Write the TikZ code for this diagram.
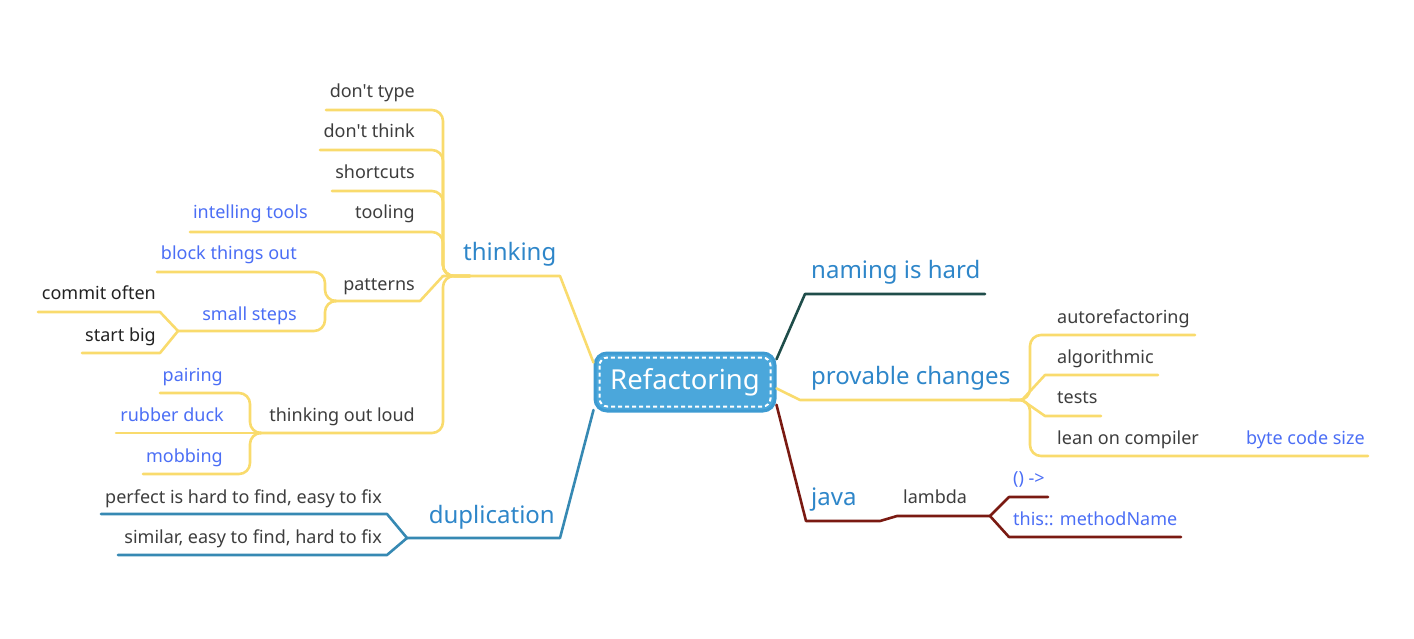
\documentclass[tikz,border=0pt]{standalone}
\usepackage{fontspec}
\newfontfamily\osans{Noto Sans}
\usetikzlibrary{calc}
\definecolor{ylw}{HTML}{F9DB6D}
\definecolor{hdblue}{HTML}{2E86C9}
\definecolor{txtgray}{HTML}{3D3D3D}
\definecolor{txtdark}{HTML}{222222}
\definecolor{lnkblue}{HTML}{4B6EF5}
\definecolor{dupblue}{HTML}{3689B3}
\definecolor{nameteal}{HTML}{1F4D4A}
\definecolor{javared}{HTML}{7A1A12}
\definecolor{rootfill}{HTML}{4BA7DB}
\definecolor{rootline}{HTML}{3E9BD2}
\tikzset{
  conn/.style={line width=2.6pt, line cap=round, line join=round, rounded corners=11pt},
  sharp/.style={line width=2.6pt, line cap=round, line join=round},
  head/.style={inner sep=0pt, yshift=-6pt, text=hdblue, font=\osans\fontsize{24}{28}\selectfont},
  leaf/.style={inner sep=0pt, yshift=-5pt, text=txtgray, font=\osans\fontsize{18}{21}\selectfont},
  leafdark/.style={inner sep=0pt, yshift=-5pt, text=txtdark, font=\osans\fontsize{18}{21}\selectfont},
  link/.style={inner sep=0pt, yshift=-5pt, text=lnkblue, font=\osans\fontsize{18}{21}\selectfont},
}
\begin{document}
\begin{tikzpicture}[x=1pt,y=-1pt]
\useasboundingbox (0,0) rectangle (1414,638);

% root
\node[draw=rootline, line width=3pt, fill=rootfill, rounded corners=12pt,
      minimum width=180pt, minimum height=58pt, inner sep=0pt,
      text=white, font=\osans\fontsize{27.5}{32}\selectfont] (root) at (685,382) {Refactoring};
\draw[white, line width=2pt, dash pattern=on 4pt off 3pt, rounded corners=8pt]
  ($(root.north west)+(6,6)$) rectangle ($(root.south east)+(-6,-6)$);

% ---------------- thinking branch ----------------
\coordinate (tj) at (443,276);
\coordinate (te) at (560,276);
\draw[ylw, sharp] (root.168) -- (te) -- (tj);
\node[head, anchor=mid west] (thinking) at (463,252) {thinking};

\coordinate (dtypeL) at (326,110);
\coordinate (dthinkL) at (320,150);
\coordinate (shortL) at (332,191);
\coordinate (toolL) at (350,232);
\coordinate (intelL) at (190,232);
\coordinate (loudL) at (260,433);
\coordinate (patL) at (335,301);
\coordinate (patR) at (420,301);

\draw[ylw, conn] (dtypeL) -- (443,110) -- (443,276) -- (470,276);
\draw[ylw, conn] (dthinkL) -- (443,150) -- (443,276) -- (470,276);
\draw[ylw, conn] (shortL) -- (443,191) -- (443,276) -- (470,276);
\draw[ylw, conn] (intelL) -- (toolL) -- (443,232) -- (443,276) -- (470,276);
\draw[ylw, conn] (loudL) -- (443,433) -- (443,276) -- (470,276);
\draw[ylw, sharp] (patL) -- (patR) -- (tj);

\node[leaf, anchor=mid east] (dtype) at (415,90) {don't type};
\node[leaf, anchor=mid east] (dthink) at (415,130) {don't think};
\node[leaf, anchor=mid east] (short) at (415,171) {shortcuts};
\node[leaf, anchor=mid east] (tool) at (415,211) {tooling};
\node[link, anchor=mid east] (intel) at (308,211) {intelling tools};
\node[leaf, anchor=mid east] (pat) at (415,283) {patterns};
\node[leaf, anchor=mid east] (loud) at (415,414) {thinking out loud};

% patterns children
\coordinate (blockL) at (157,272);
\coordinate (smallL) at (182,331);
\coordinate (smallJ) at (178,331);
\draw[ylw, conn] (blockL) -- (325,272) -- (325,301) -- (patL);
\draw[ylw, conn] (smallJ) -- (325,331) -- (325,301) -- (patL);
\node[link, anchor=mid east] (block) at (297,252) {block things out};
\node[link, anchor=mid east] (small) at (297,313) {small steps};

% small steps children
\coordinate (commitL) at (38,312);
\coordinate (bigL) at (82,353);
\draw[ylw, sharp] (commitL) -- (160,312) -- (smallJ);
\draw[ylw, sharp] (bigL) -- (160,353) -- (smallJ);
\node[leafdark, anchor=mid east] (commit) at (156,292) {commit often};
\node[leafdark, anchor=mid east] (big) at (156,334) {start big};

% thinking out loud children
\coordinate (pairL) at (160,393);
\coordinate (duckL) at (116,433);
\coordinate (mobL) at (143,474);
\draw[ylw, conn] (pairL) -- (250,393) -- (250,433) -- (loudL);
\draw[ylw, sharp] (duckL) -- (loudL);
\draw[ylw, conn] (mobL) -- (250,474) -- (250,433) -- (loudL);
\node[link, anchor=mid east] (pair) at (223,374) {pairing};
\node[link, anchor=mid east] (duck) at (224,414) {rubber duck};
\node[link, anchor=mid east] (mob) at (223,455) {mobbing};

% ---------------- duplication branch ----------------
\coordinate (dj) at (407,538);
\coordinate (de) at (560,538);
\draw[dupblue, sharp] (root.197) -- (de) -- (dj);
\node[head, anchor=mid east] (dup) at (555,515) {duplication};
\coordinate (perfL) at (101,514);
\coordinate (simL) at (118,555);
\draw[dupblue, sharp] (perfL) -- (387,514) -- (dj);
\draw[dupblue, sharp] (simL) -- (387,555) -- (dj);
\node[leaf, anchor=mid east] (perf) at (382,496) {perfect is hard to find, easy to fix};
\node[leaf, anchor=mid east] (sim) at (382,536) {similar, easy to find, hard to fix};

% ---------------- naming is hard ----------------
\coordinate (nj) at (805,294);
\coordinate (ne) at (985,294);
\draw[nameteal, sharp] (root.14) -- (nj) -- (ne);
\node[head, anchor=mid west] (naming) at (811,270) {naming is hard};

% ---------------- provable changes ----------------
\coordinate (pj) at (800,400);
\coordinate (pe) at (1022,400);
\draw[ylw, sharp] (root.-4) -- (pj) -- (pe);
\node[head, anchor=mid west] (prov) at (811,376) {provable changes};
\coordinate (autoR) at (1195,335);
\coordinate (algR) at (1158,375);
\coordinate (testR) at (1101,416);
\coordinate (leanR) at (1230,456);
\coordinate (byteR) at (1368,456);
\draw[ylw, conn] (1010,400) -- (1030,400) -- (1030,335) -- (autoR);
\draw[ylw, conn] (1010,400) -- (1030,400) -- (1030,456) -- (leanR) -- (byteR);
\draw[ylw, sharp] (pe) -- (1045,375) -- (algR);
\draw[ylw, sharp] (pe) -- (1045,416) -- (testR);
\node[leaf, anchor=mid west] (auto) at (1057,316) {autorefactoring};
\node[leaf, anchor=mid west] (alg) at (1057,356) {algorithmic};
\node[leaf, anchor=mid west] (test) at (1057,396) {tests};
\node[leaf, anchor=mid west] (lean) at (1057,437) {lean on compiler};
\node[link, anchor=mid west] (byte) at (1246,437) {byte code size};

% ---------------- java ----------------
\coordinate (jj) at (806,521);
\coordinate (lj) at (990,516);
\draw[javared, sharp] (root.-14) -- (jj) -- (880,521) -- (897,516) -- (lj);
\node[head, anchor=mid west] (java) at (811,497) {java};
\node[leaf, anchor=mid west] (lambda) at (903,496) {lambda};
\coordinate (arrR) at (1048,497);
\coordinate (thisR) at (1181,537);
\draw[javared, sharp] (lj) -- (1009,497) -- (arrR);
\draw[javared, sharp] (lj) -- (1009,537) -- (thisR);
\node[link, anchor=mid west] (arr) at (1013,477) {() ->};
\node[link, anchor=mid west] (this) at (1013,518) {this:: methodName};
\end{tikzpicture}
\end{document}
